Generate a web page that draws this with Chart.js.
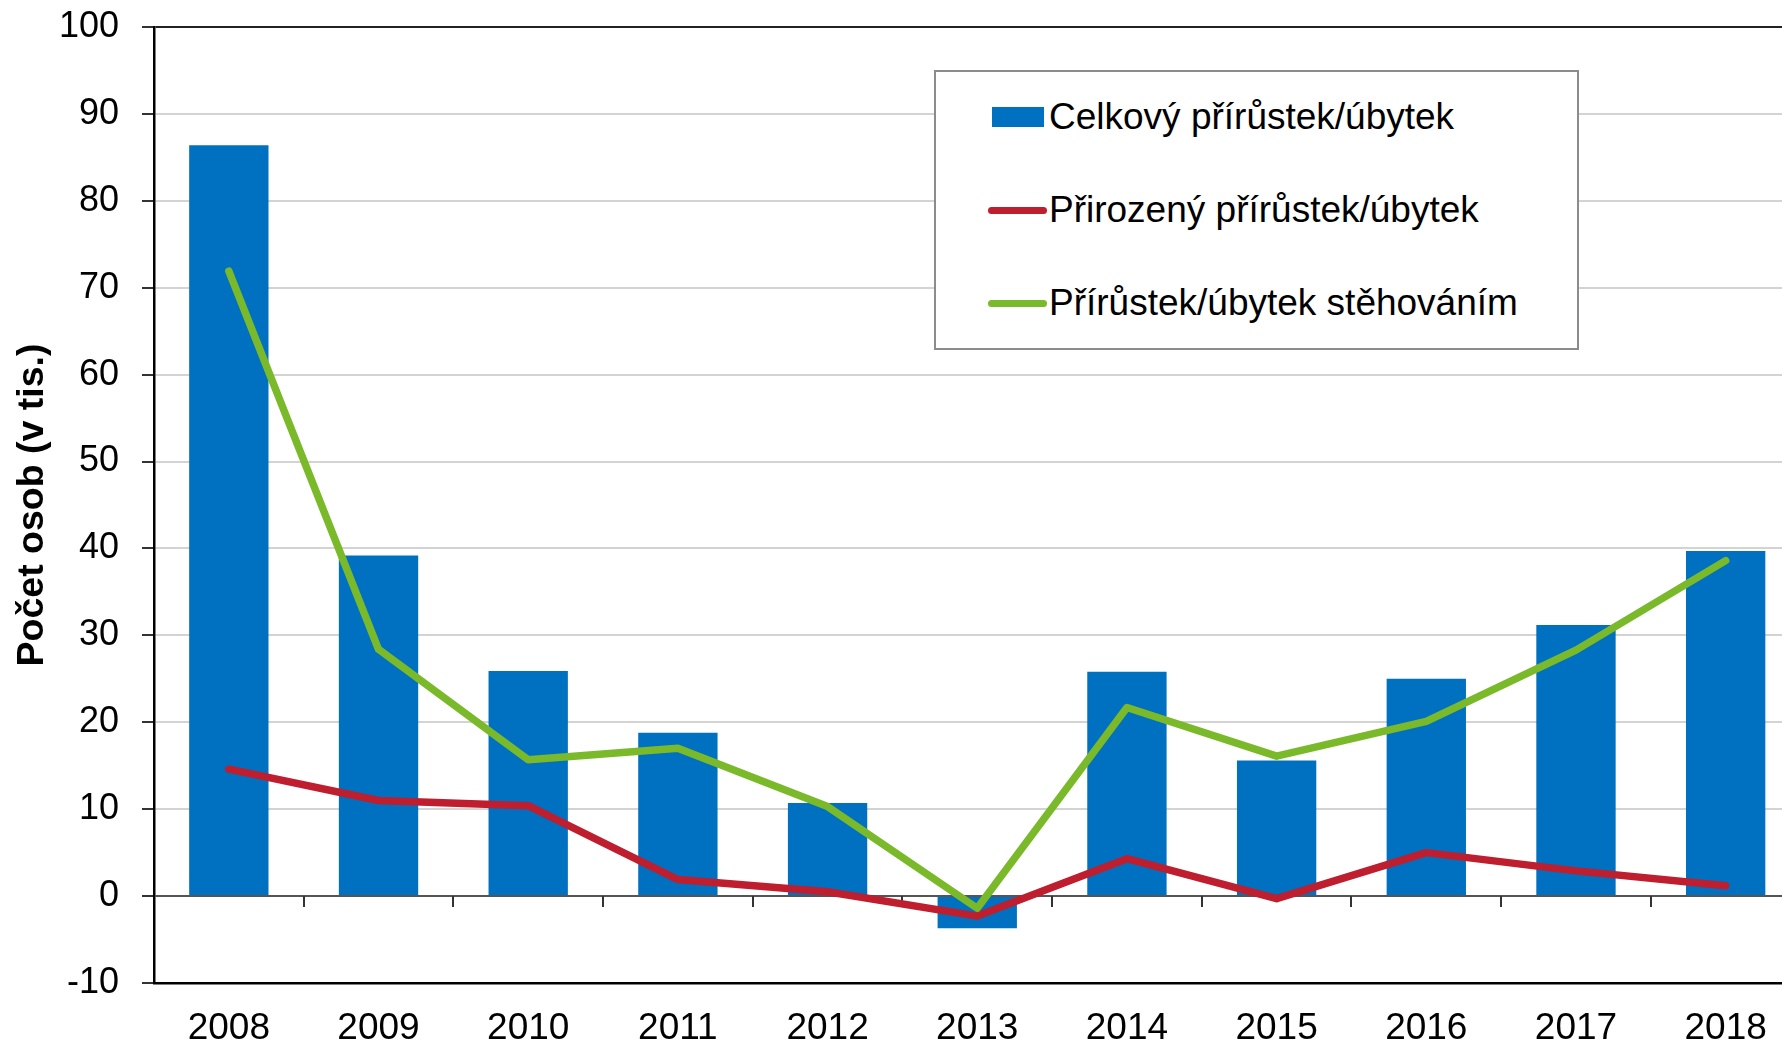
<!DOCTYPE html>
<html lang="cs">
<head>
<meta charset="utf-8">
<title>Přírůstek obyvatel 2008–2018</title>
<script src="https://cdn.jsdelivr.net/npm/chart.js@4.4.1/dist/chart.umd.min.js"></script>
<style>
  html, body { margin: 0; padding: 0; background: #fff; overflow: hidden; }
  #wrap { position: relative; width: 1802px; height: 1045px; }
  #legend {
    position: absolute; left: 934px; top: 70px; width: 641px; height: 276px;
    border: 2px solid #8c8c8c; background: #fff;
    font-family: "Liberation Sans", Arial, sans-serif; font-size: 37px; color: #000;
  }
  .item { position: absolute; left: 0; height: 44px; width: 100%; }
  .mark { position: absolute; top: 50%; }
  .txt { position: absolute; left: 113px; top: 50%; transform: translateY(-50%); white-space: nowrap; }
</style>
</head>
<body>
<div id="wrap">
  <canvas id="chart" width="1802" height="1045"></canvas>
  <div id="legend"></div>
</div>
<script>
// data
const years = ["2008", "2009", "2010", "2011", "2012", "2013", "2014", "2015", "2016", "2017", "2018"];
const celkovy = [86.4, 39.2, 25.9, 18.8, 10.7, -3.7, 25.8, 15.6, 25.0, 31.2, 39.7];
const prirozeny = [14.6, 11.0, 10.4, 1.9, 0.5, -2.3, 4.3, -0.3, 5.0, 2.9, 1.2];
const stehovanim = [71.9, 28.4, 15.7, 17.0, 10.3, -1.4, 21.7, 16.1, 20.1, 28.3, 38.6];

const seriesLabels = ["Celkový přírůstek/úbytek", "Přirozený přírůstek/úbytek", "Přírůstek/úbytek stěhováním"];
const seriesColors = ["#0070c0", "#be1e2d", "#7ab929"];
const yTitle = "Počet osob (v tis.)";

Chart.defaults.font.family = "'Liberation Sans', Arial, sans-serif";
Chart.defaults.color = "#000";

// tick marks on the zero line between categories
const zeroTicks = {
  id: "zeroTicks",
  beforeDatasetsDraw(chart) {
    const x = chart.scales.x;
    const y0 = chart.scales.y.getPixelForValue(0);
    const ctx = chart.ctx;
    ctx.save();
    ctx.strokeStyle = "#333";
    ctx.lineWidth = 2;
    for (let i = 1; i < years.length; i++) {
      const px = Math.round((x.getPixelForValue(i - 1) + x.getPixelForValue(i)) / 2);
      ctx.beginPath();
      ctx.moveTo(px, y0);
      ctx.lineTo(px, y0 + 11);
      ctx.stroke();
    }
    ctx.restore();
  }
};

const ctx = document.getElementById("chart").getContext("2d");
new Chart(ctx, {
  data: {
    labels: years,
    datasets: [
      {
        type: "line",
        label: seriesLabels[2],
        data: stehovanim,
        borderColor: seriesColors[2],
        borderWidth: 7.5,
        borderCapStyle: "round",
        borderJoinStyle: "round",
        pointRadius: 0,
        tension: 0,
        order: 1
      },
      {
        type: "line",
        label: seriesLabels[1],
        data: prirozeny,
        borderColor: seriesColors[1],
        borderWidth: 7.5,
        borderCapStyle: "round",
        borderJoinStyle: "round",
        pointRadius: 0,
        tension: 0,
        order: 2
      },
      {
        type: "bar",
        label: seriesLabels[0],
        data: celkovy,
        backgroundColor: seriesColors[0],
        categoryPercentage: 1,
        barPercentage: 0.53,
        order: 3
      }
    ]
  },
  options: {
    responsive: false,
    animation: false,
    layout: { padding: { top: 27, right: 1.5, left: 0, bottom: 0 } },
    plugins: {
      legend: { display: false },
      tooltip: { enabled: false }
    },
    scales: {
      x: {
        grid: { display: true, drawOnChartArea: false, drawTicks: false },
        border: { display: true, color: "#000", width: 2.5 },
        ticks: { font: { size: 37 }, padding: 24, maxRotation: 0 },
        afterFit: (scale) => { scale.height = 62; }
      },
      y: {
        min: -10,
        max: 100,
        ticks: { stepSize: 10, font: { size: 36 }, padding: 23 },
        grid: {
          color: (c) => (c.tick.value === 0 ? "#555" : c.tick.value === 100 ? "#222" : "#d3d3d3"),
          lineWidth: 2,
          tickLength: 12,
          tickColor: "#333"
        },
        border: { display: true, color: "#000", width: 2.5 },
        title: {
          display: true,
          text: yTitle,
          font: { size: 37.5, weight: "bold" },
          padding: { top: 10, bottom: 0 }
        },
        afterFit: (scale) => {
          scale.width = 154;
          scale.paddingTop = 0;
          scale.paddingBottom = 0;
        }
      }
    }
  },
  plugins: [zeroTicks]
});

// legend box
const legend = document.getElementById("legend");
const itemCenters = [45, 138, 231];
seriesLabels.forEach((lab, i) => {
  const item = document.createElement("div");
  item.className = "item";
  item.style.top = (itemCenters[i] - 22) + "px";
  const mark = document.createElement("span");
  mark.className = "mark";
  if (i === 0) {
    mark.style.cssText = `left:56px;width:52px;height:20px;margin-top:-10px;background:${seriesColors[i]};`;
  } else {
    mark.style.cssText = `left:52px;width:59px;height:7px;margin-top:-3.5px;border-radius:4px;background:${seriesColors[i]};`;
  }
  const txt = document.createElement("span");
  txt.className = "txt";
  txt.textContent = lab;
  item.appendChild(mark);
  item.appendChild(txt);
  legend.appendChild(item);
});
</script>
</body>
</html>
